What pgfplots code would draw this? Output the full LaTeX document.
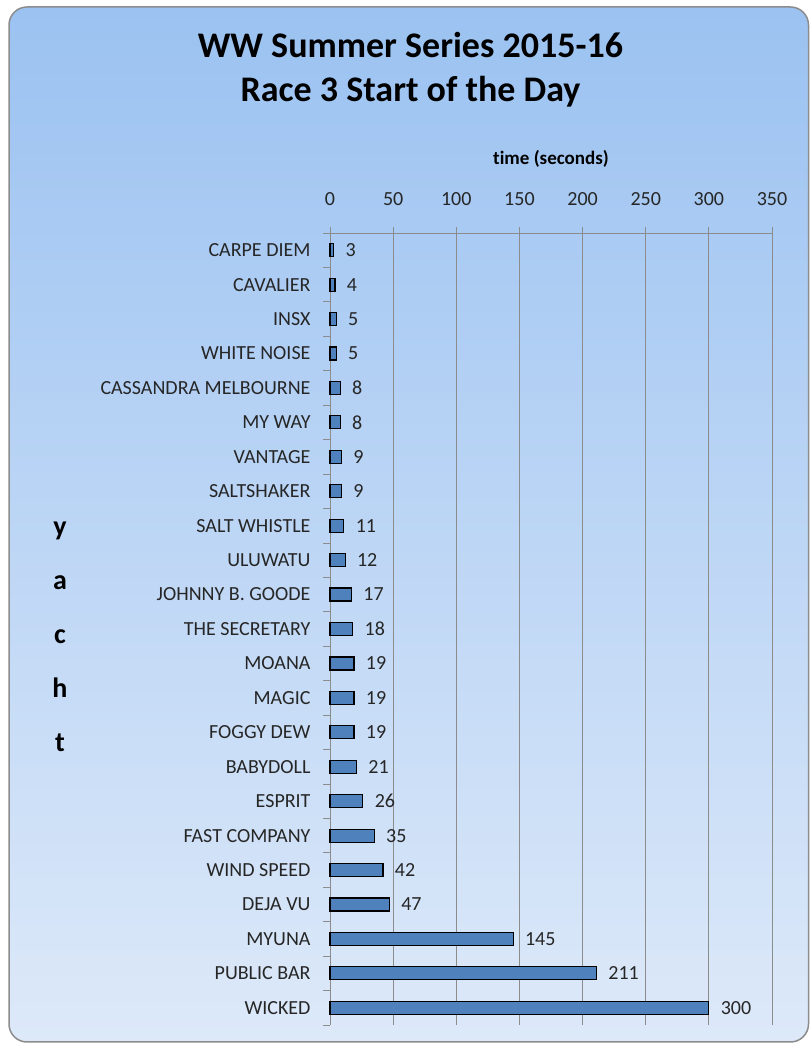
\documentclass[border=0pt]{standalone}
\usepackage{pgfplots}
\pgfplotsset{compat=1.18}
\usepackage{fontspec}
\setmainfont{Carlito}[Ligatures=NoCommon]
\definecolor{bgtop}{RGB}{155,194,241}
\definecolor{bgbot}{RGB}{221,233,249}
\definecolor{barblue}{RGB}{79,129,189}
\definecolor{axgray}{RGB}{140,140,140}
\begin{document}
\begin{tikzpicture}[x=1bp,y=1bp]
\useasboundingbox (0,0) rectangle (811,1044);
\fill[white] (0,0) rectangle (811,1044);
\shade[top color=bgtop, bottom color=bgbot, rounded corners=18bp] (9,2) rectangle (808.5,1037);
\draw[axgray, line width=1.5bp, rounded corners=18bp] (9,2) rectangle (808.5,1037);
\node[anchor=base, inner sep=0pt, font=\bfseries\fontsize{36bp}{44bp}\selectfont] at (410.5,986) {WW Summer Series 2015-16};
\node[anchor=base, inner sep=0pt, font=\bfseries\fontsize{36bp}{44bp}\selectfont] at (410.5,942) {Race 3 Start of the Day};
\begin{axis}[
  at={(330bp,811bp)}, anchor=north west,
  width=442bp, height=792bp, scale only axis,
  xmin=0, xmax=350, ymin=-0.5, ymax=22.5,
  axis x line*=top, axis y line*=left,
  axis line style={axgray, line width=0.8bp},
  /pgf/number format/assume math mode=true,
  xtick={0,50,...,350},
  ytick={0,...,22},
  yticklabels={WICKED,PUBLIC BAR,MYUNA,DEJA VU,WIND SPEED,FAST COMPANY,ESPRIT,BABYDOLL,FOGGY DEW,MAGIC,MOANA,THE SECRETARY,JOHNNY B. GOODE,ULUWATU,SALT WHISTLE,SALTSHAKER,VANTAGE,MY WAY,CASSANDRA MELBOURNE,WHITE NOISE,INSX,CAVALIER,CARPE DIEM},
  minor ytick={-0.5,0.5,...,22.5},
  tick align=outside,
  major tick length=6bp, minor tick length=7bp,
  every tick/.style={axgray, line width=0.8bp},
  every major y tick/.style={draw=none},
  xmajorgrids, major x grid style={axgray, line width=0.8bp},
  tick label style={font=\fontsize{20bp}{24bp}\selectfont, text=black!85},
  xticklabel style={anchor=base, yshift=21bp},
  yticklabel style={xshift=-10bp},
  xlabel={time (seconds)},
  xlabel style={at={(axis description cs:0.5,1)}, anchor=base, yshift=68bp, font=\bfseries\fontsize{19bp}{23bp}\selectfont},
  ylabel={y\\a\\c\\h\\t},
  ylabel style={rotate=-90, align=center, anchor=center, at={(axis description cs:-0.611,0.49)}, font=\bfseries\fontsize{28bp}{54bp}\selectfont},
  clip=false,
]
\addplot[xbar, bar width=13bp, fill=barblue, draw=black, line width=1.2bp,
  nodes near coords, every node near coord/.style={anchor=west, xshift=8bp, font=\fontsize{20bp}{24bp}\selectfont, text=black!85}]
coordinates {(300,0) (211,1) (145,2) (47,3) (42,4) (35,5) (26,6) (21,7) (19,8) (19,9) (19,10) (18,11) (17,12) (12,13) (11,14) (9,15) (9,16) (8,17) (8,18) (5,19) (5,20) (4,21) (3,22)};
\end{axis}
\end{tikzpicture}
\end{document}
